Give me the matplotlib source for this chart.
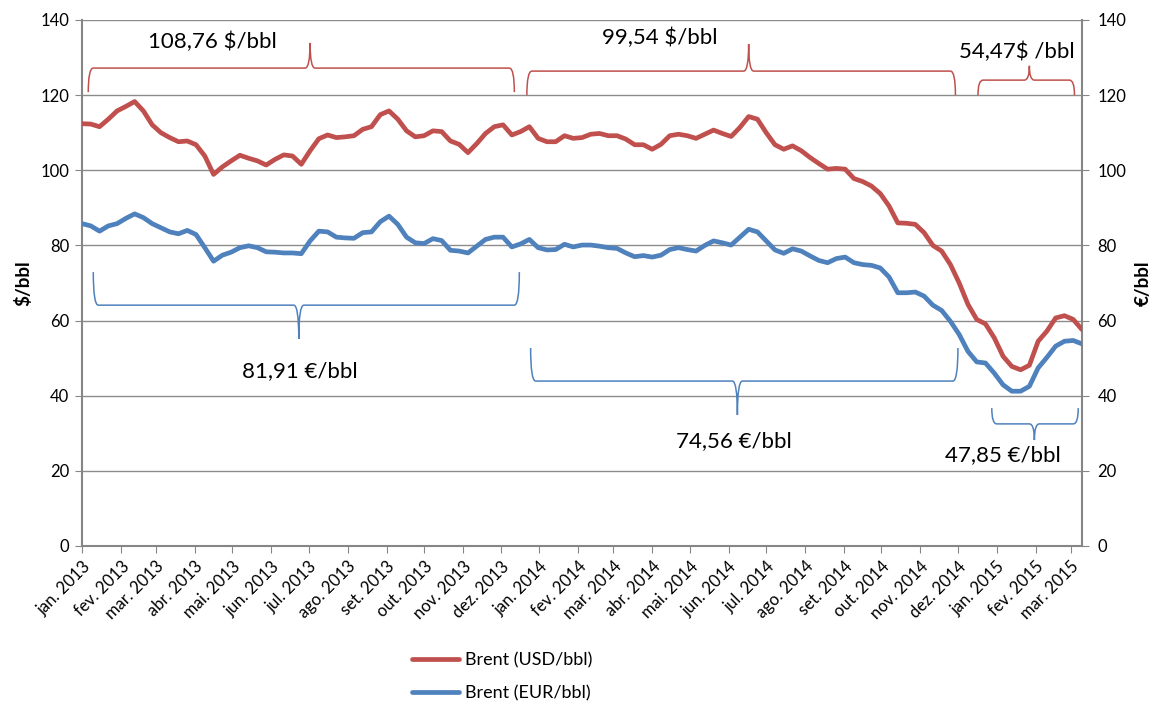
import pandas as pd
import matplotlib
matplotlib.use('Agg')
import matplotlib.pyplot as plt
import matplotlib.dates as mdates
from matplotlib.path import Path
from matplotlib.patches import PathPatch

plt.rcParams['font.family'] = ['Lato', 'DejaVu Sans']

# --- dados (semanal, jan. 2013 - mar. 2015) ---
inicio = '2013-01-01'
brent_usd = [112.4, 112.3, 111.6, 113.6, 115.8, 117.0, 118.3, 115.8, 112.1, 110.0,
             108.7, 107.6, 107.8, 106.8, 103.8, 98.9, 100.9, 102.5, 104.0, 103.2,
             102.5, 101.4, 102.9, 104.1, 103.8, 101.6, 105.2, 108.4, 109.4, 108.7,
             108.9, 109.2, 110.9, 111.6, 114.8, 115.8, 113.6, 110.5, 108.9, 109.2,
             110.5, 110.3, 107.8, 106.9, 104.7, 107.1, 109.8, 111.6, 112.1, 109.4,
             110.3, 111.6, 108.5, 107.6, 107.6, 109.2, 108.5, 108.7, 109.6, 109.8,
             109.2, 109.2, 108.3, 106.8, 106.8, 105.6, 106.9, 109.2, 109.6, 109.2,
             108.5, 109.6, 110.7, 109.8, 109.0, 111.4, 114.3, 113.6, 110.0, 106.8,
             105.6, 106.5, 105.2, 103.4, 101.8, 100.3, 100.5, 100.3, 97.8, 97.0,
             95.8, 93.8, 90.5, 86.0, 85.9, 85.6, 83.4, 80.0, 78.5, 74.9,
             70.0, 64.3, 60.3, 59.1, 55.4, 50.5, 47.8, 46.9, 48.1, 54.5,
             57.2, 60.7, 61.3, 60.3, 57.6]
brent_eur = [85.8, 85.2, 83.8, 85.2, 85.8, 87.2, 88.4, 87.4, 85.8, 84.7,
             83.6, 83.1, 84.0, 82.9, 79.4, 75.8, 77.4, 78.2, 79.4, 79.9,
             79.4, 78.3, 78.2, 78.0, 78.0, 77.8, 81.2, 83.8, 83.6, 82.2,
             82.0, 81.9, 83.4, 83.6, 86.3, 87.8, 85.6, 82.2, 80.7, 80.5,
             81.8, 81.3, 78.7, 78.5, 78.0, 79.8, 81.6, 82.2, 82.2, 79.6,
             80.4, 81.6, 79.4, 78.8, 78.9, 80.3, 79.6, 80.1, 80.1, 79.8,
             79.4, 79.2, 78.0, 77.0, 77.3, 76.9, 77.4, 78.9, 79.4, 78.9,
             78.5, 80.0, 81.2, 80.7, 80.1, 82.2, 84.3, 83.6, 81.2, 78.8,
             77.9, 79.1, 78.5, 77.2, 76.0, 75.4, 76.5, 76.9, 75.4, 74.9,
             74.7, 74.0, 71.6, 67.4, 67.4, 67.6, 66.5, 64.1, 62.7, 59.8,
             56.3, 51.8, 49.0, 48.7, 46.0, 42.9, 41.2, 41.2, 42.5, 47.4,
             50.2, 53.2, 54.5, 54.7, 53.8]
meses = ['jan.', 'fev.', 'mar.', 'abr.', 'mai.', 'jun.',
         'jul.', 'ago.', 'set.', 'out.', 'nov.', 'dez.']

# medias por periodo: (inicio, fim, ponta, texto)
medias_usd = [('2013-01-06', '2013-12-12', '2013-07-02', '108,76 $/bbl'),
              ('2013-12-22', '2014-11-29', '2014-06-17', '99,54 $/bbl'),
              ('2014-12-17', '2015-03-04', '2015-01-27', '54,47$ /bbl')]
medias_eur = [('2013-01-10', '2013-12-16', '2013-06-23', '81,91 €/bbl'),
              ('2013-12-25', '2014-12-01', '2014-06-08', '74,56 €/bbl'),
              ('2014-12-28', '2015-03-07', '2015-01-31', '47,85 €/bbl')]

datas = pd.date_range(inicio, periods=len(brent_usd), freq='7D')
VERMELHO = '#C0504D'
AZUL = '#4F81BD'
CINZA = '#868686'


def chave(ax, x0, x1, xm, y_fim, y_linha, y_ponta, cor):
    """Desenha uma chaveta (estilo Excel) em coordenadas de dados."""
    a, b, m = (mdates.date2num(pd.Timestamp(v)) for v in (x0, x1, xm))
    dx = 4.0
    verts = [(a, y_fim), (a, y_linha), (a + dx, y_linha),
             (m - dx, y_linha), (m, y_linha), (m, y_ponta),
             (m, y_linha), (m + dx, y_linha),
             (b - dx, y_linha), (b, y_linha), (b, y_fim)]
    codes = [Path.MOVETO, Path.CURVE3, Path.CURVE3,
             Path.LINETO, Path.CURVE3, Path.CURVE3,
             Path.CURVE3, Path.CURVE3,
             Path.LINETO, Path.CURVE3, Path.CURVE3]
    ax.add_patch(PathPatch(Path(verts, codes), fill=False, edgecolor=cor,
                           lw=1.1, clip_on=False, zorder=4))


fig = plt.figure(figsize=(11.53, 7.01), dpi=100)
ax = fig.add_axes([82 / 1153, 155 / 701, 1000 / 1153, 526 / 701])

ax.plot(datas, brent_usd, color=VERMELHO, lw=3.4, label='Brent (USD/bbl)',
        solid_joinstyle='round', solid_capstyle='round', zorder=3)
ax.plot(datas, brent_eur, color=AZUL, lw=3.4, label='Brent (EUR/bbl)',
        solid_joinstyle='round', solid_capstyle='round', zorder=3)

ax.set_xlim(datas[0], datas[-1])
ax.set_ylim(0, 140)
ax.set_yticks(range(0, 141, 20))
ax.grid(axis='y', color='#8c8c8c', lw=1.0)
ax.set_axisbelow(True)

ticks_x = pd.date_range('2013-01-01', '2015-03-01', freq='MS')
ax.set_xticks(ticks_x)
ax.set_xticklabels([f'{meses[d.month - 1]} {d.year}' for d in ticks_x],
                   rotation=45, ha='right', rotation_mode='anchor', fontsize=12)
ax.tick_params(axis='x', length=5, color=CINZA, pad=4)
ax.tick_params(axis='y', length=5, color=CINZA, labelsize=12, pad=4)

for lado in ['left', 'right', 'bottom']:
    ax.spines[lado].set_color(CINZA)
    ax.spines[lado].set_linewidth(1.5)
ax.spines['top'].set_visible(False)

ax2 = ax.twinx()
ax2.set_ylim(0, 140)
ax2.set_yticks(range(0, 141, 20))
ax2.tick_params(axis='y', length=5, color=CINZA, labelsize=12, pad=6)
for lado in ['left', 'right', 'bottom', 'top']:
    ax2.spines[lado].set_visible(False)

ax.set_ylabel('$/bbl', fontsize=13.5, fontweight='bold', labelpad=6)
ax2.set_ylabel('€/bbl', fontsize=13.5, fontweight='bold', labelpad=6,
               rotation=90)

# chavetas com as medias
chave(ax, *medias_usd[0][:3], 120.8, 127.2, 133.9, VERMELHO)
chave(ax, *medias_usd[1][:3], 120.0, 126.4, 133.6, VERMELHO)
chave(ax, *medias_usd[2][:3], 120.0, 124.0, 127.8, VERMELHO)
chave(ax, *medias_eur[0][:3], 72.9, 64.1, 55.1, AZUL)
chave(ax, *medias_eur[1][:3], 52.7, 43.9, 34.9, AZUL)
chave(ax, *medias_eur[2][:3], 36.7, 32.5, 28.2, AZUL)

textos = [(medias_usd[0][3], '2013-04-15', 134.1),
          (medias_usd[1][3], '2014-04-07', 135.2),
          (medias_usd[2][3], '2015-01-17', 131.5),
          (medias_eur[0][3], '2013-06-24', 46.6),
          (medias_eur[1][3], '2014-06-05', 27.9),
          (medias_eur[2][3], '2015-01-06', 24.2)]
for txt, x, y in textos:
    ax.text(pd.Timestamp(x), y, txt, fontsize=16, ha='center', va='center',
            zorder=5)

fig.legend(loc='upper left', bbox_to_anchor=(396 / 1153, 1 - 636 / 701),
           frameon=False, fontsize=13, handlelength=2.6, labelspacing=0.95,
           handletextpad=0.3)

fig.savefig('out.png', dpi=100)
